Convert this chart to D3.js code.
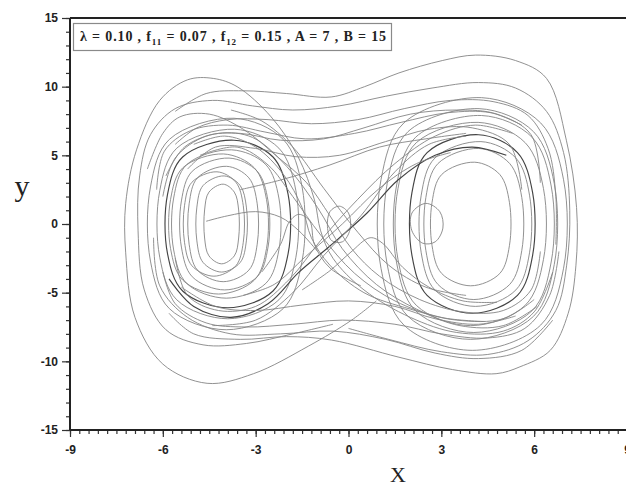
<!DOCTYPE html>
<html>
<head>
<meta charset="utf-8">
<script src="https://cdn.jsdelivr.net/npm/d3@7"></script>
<style>
  body { margin: 0; background: #fff; }
  svg { display: block; }
</style>
</head>
<body>
<div id="chart"></div>
<script>
// tick labels
const xTicks = [-9, -6, -3, 0, 3, 6, 9];
const yTicks = [-15, -10, -5, 0, 5, 10, 15];

// legend parts: [text, isSubscript]
const legendParts = [
  ["λ = 0.10 , f", false], ["11", true], [" = 0.07 , f", false], ["12", true],
  [" = 0.15 , A = 7 , B = 15", false]
];

// closed orbits around the left well
const leftLoops = [
  [[-4.05,2.9],[-3.69,2.32],[-3.55,1.02],[-3.55,-1.02],[-3.69,-2.32],[-4.1,-2.9],[-4.51,-2.32],[-4.65,-1.02],[-4.65,1.02],[-4.51,2.32]],
  [[-4.02,3.5],[-3.5,2.8],[-3.3,1.23],[-3.3,-1.23],[-3.5,-2.8],[-4.1,-3.5],[-4.7,-2.8],[-4.9,-1.23],[-4.9,1.23],[-4.7,2.8]],
  [[-4.25,3.8],[-3.64,3.04],[-3.4,1.33],[-3.4,-1.33],[-3.64,-3.04],[-4.35,-3.8],[-5.06,-3.04],[-5.3,-1.33],[-5.3,1.33],[-5.06,3.04]],
  [[-3.94,4.2],[-3.22,3.36],[-2.95,1.47],[-2.95,-1.47],[-3.22,-3.36],[-4.05,-4.2],[-4.88,-3.36],[-5.15,-1.47],[-5.15,1.47],[-4.88,3.36]],
  [[-3.86,4.8],[-2.95,3.84],[-2.6,1.68],[-2.6,-1.68],[-2.95,-3.84],[-4.0,-4.8],[-5.05,-3.84],[-5.4,-1.68],[-5.4,1.68],[-5.05,3.84]],
  [[-4.04,5.1],[-3.04,4.08],[-2.65,1.79],[-2.65,-1.79],[-3.04,-4.08],[-4.2,-5.1],[-5.36,-4.08],[-5.75,-1.79],[-5.75,1.79],[-5.36,4.08]],
  [[-3.78,5.4],[-2.67,4.32],[-2.25,1.89],[-2.25,-1.89],[-2.67,-4.32],[-3.95,-5.4],[-5.23,-4.32],[-5.65,-1.89],[-5.65,1.89],[-5.23,4.32]],
  [[-3.7,6.1],[-2.44,4.88],[-1.95,2.14],[-1.95,-2.14],[-2.44,-4.88],[-3.9,-6.1],[-5.36,-4.88],[-5.85,-2.14],[-5.85,2.14],[-5.36,4.88]],
  [[-3.68,6.9],[-2.25,5.52],[-1.7,2.42],[-1.7,-2.42],[-2.25,-5.52],[-3.9,-6.9],[-5.55,-5.52],[-6.1,-2.42],[-6.1,2.42],[-5.55,5.52]],
  [[-3.7,7.7],[-2.11,6.16],[-1.5,2.7],[-1.5,-2.7],[-2.11,-6.16],[-3.95,-7.7],[-5.79,-6.16],[-6.4,-2.7],[-6.4,2.7],[-5.79,6.16]]
];

// closed orbits around the right well
const rightLoops = [
  [[4.08,4.5],[4.89,3.6],[5.2,1.58],[5.2,-1.58],[4.89,-3.6],[3.95,-4.5],[3.01,-3.6],[2.7,-1.58],[2.7,1.58],[3.01,3.6]],
  [[4.21,5.5],[5.21,4.4],[5.6,1.93],[5.6,-1.93],[5.21,-4.4],[4.05,-5.5],[2.89,-4.4],[2.5,-1.93],[2.5,1.93],[2.89,4.4]],
  [[4.28,6.0],[5.41,4.8],[5.85,2.1],[5.85,-2.1],[5.41,-4.8],[4.1,-6.0],[2.79,-4.8],[2.35,-2.1],[2.35,2.1],[2.79,4.8]],
  [[4.2,6.5],[5.46,5.2],[5.95,2.28],[5.95,-2.28],[5.46,-5.2],[4.0,-6.5],[2.54,-5.2],[2.05,-2.28],[2.05,2.28],[2.54,5.2]],
  [[4.19,7.4],[5.71,5.92],[6.3,2.59],[6.3,-2.59],[5.71,-5.92],[3.95,-7.4],[2.19,-5.92],[1.6,-2.59],[1.6,2.59],[2.19,5.92]],
  [[4.3,7.9],[5.93,6.32],[6.55,2.77],[6.55,-2.77],[5.93,-6.32],[4.05,-7.9],[2.17,-6.32],[1.55,-2.77],[1.55,2.77],[2.17,6.32]],
  [[4.22,8.4],[5.98,6.72],[6.65,2.94],[6.65,-2.94],[5.98,-6.72],[3.95,-8.4],[1.92,-6.72],[1.25,-2.94],[1.25,2.94],[1.92,6.72]],
  [[4.3,9.2],[6.21,7.36],[6.95,3.22],[6.95,-3.22],[6.21,-7.36],[4.0,-9.2],[1.79,-7.36],[1.05,-3.22],[1.05,3.22],[1.79,7.36]]
];

// small turning loops near the saddle
const smallLoops = [
  [[-0.3,1.3],[0.0,0.8],[0.05,-0.4],[-0.2,-1.3],[-0.55,-1.2],[-0.68,-0.2],[-0.6,0.9]],
  [[2.5,1.5],[2.95,0.9],[3.05,-0.3],[2.8,-1.3],[2.4,-1.4],[2.05,-0.5],[2.05,0.8]]
];

// open stretches of the trajectory that jump between the wells
const crossings = [
  [[0.9,-5.6],[0.1,-7.0],[-1.3,-8.9],[-3.07,-10.9],[-4.57,-11.6],[-6.0,-10.2],[-6.9,-6.8],[-7.2,-2.1],[-7.2,1.5],[-6.85,5.4],[-6.1,9.0],[-5.2,10.5],[-4.37,10.6],[-3.6,10.0],[-2.5,7.8],[-1.63,4.9],[-1.1,1.75],[-0.9,-0.5],[-0.5,-2.5],[0.5,-4.8],[2.0,-6.8],[3.5,-7.9],[5.0,-7.8],[6.0,-6.4],[6.6,-3.5]],
  [[-5.8,-6.5],[-5.0,-8.0],[-3.5,-8.4],[-2.0,-8.2],[-0.55,-8.45],[1.63,-9.7],[3.36,-10.6],[4.77,-10.9],[5.54,-10.4],[6.52,-9.2],[7.1,-6.5],[7.35,-3.0],[7.37,1.2],[7.04,6.1],[6.4,10.6],[5.4,11.9],[4.11,12.3],[3.03,11.9],[1.63,11.0],[0.52,10.0],[-0.56,9.25],[-2.0,9.5],[-3.4,9.7],[-4.6,9.5],[-5.6,8.2]],
  [[-0.5,-7.3],[-1.8,-8.0],[-3.3,-8.7],[-4.7,-8.8],[-5.9,-7.7],[-6.6,-4.8],[-6.8,-0.5],[-6.75,3.5],[-6.4,6.5],[-5.6,8.4],[-4.4,9.0],[-3.1,8.6],[-1.8,8.3],[-0.3,8.6],[1.2,9.3],[2.7,9.9],[4.2,10.3],[5.4,9.9],[6.4,8.2],[6.95,5.2],[7.15,1.0],[7.05,-3.0],[6.7,-6.3],[5.8,-8.5],[4.5,-9.5],[3.0,-9.3],[1.3,-8.4],[0.0,-7.6]],
  [[-5.6,5.8],[-4.9,7.0],[-3.9,7.6],[-2.6,7.6],[-1.2,7.3],[0.3,7.6],[1.8,8.4],[3.3,9.0],[4.7,8.9],[5.8,7.9],[6.45,5.5],[6.7,2.0],[6.7,-1.5]],
  [[-6.2,2.5],[-5.95,5.3],[-5.1,6.8],[-3.9,7.2],[-2.7,6.7],[-1.4,6.2],[0.2,6.6],[1.7,7.4],[3.2,8.1],[4.6,8.1],[5.6,7.2]],
  [[-6.5,4.0],[-6.0,6.6],[-5.45,7.8],[-4.5,8.0],[-3.4,6.9],[-2.3,4.9],[-1.35,3.0],[-0.6,0.6],[0.1,-1.8],[1.0,-3.8],[2.3,-5.5],[3.7,-6.4],[5.0,-6.3],[5.9,-4.8],[6.2,-2.0]],
  [[-5.0,5.8],[-4.0,6.4],[-3.0,5.6],[-2.1,3.6],[-1.5,1.2],[-1.2,-1.0],[-0.6,-3.0],[0.5,-5.0],[2.0,-6.2],[3.5,-7.0],[5.0,-6.9],[6.0,-5.5]],
  [[-5.8,-4.0],[-5.0,-6.0],[-3.8,-6.8],[-2.6,-5.8],[-1.6,-3.5],[-0.6,-1.6],[0.6,0.8],[1.6,3.2],[2.8,5.0],[4.0,5.6],[5.1,5.0]],
  [[-3.5,2.5],[-2.2,3.2],[-0.6,4.3],[1.0,5.6],[2.5,6.2],[3.8,6.6]],
  [[-4.6,0.2],[-3.9,0.6],[-3.0,0.9],[-2.2,0.5],[-1.6,-0.5],[-1.0,-2.0]],
  [[-6.0,-3.5],[-5.6,-5.8],[-4.6,-7.2],[-3.3,-7.5],[-1.8,-7.3],[-0.2,-7.0],[1.5,-7.3],[3.0,-8.0],[4.5,-8.3],[5.7,-7.6],[6.5,-5.2],[6.8,-2.0]],
  [[-5.4,-4.6],[-4.3,-6.0],[-3.0,-6.3],[-1.5,-5.9],[0.0,-5.6],[1.5,-6.0],[2.8,-6.9],[4.2,-7.3],[5.4,-6.7]],
  [[-6.3,-1.0],[-6.1,-4.5],[-5.2,-6.8],[-3.8,-8.0],[-2.2,-8.0],[-0.5,-7.8],[1.2,-8.4],[2.8,-9.4],[4.2,-9.8],[5.6,-9.2],[6.6,-7.0]],
  [[6.2,3.0],[5.9,6.5],[4.8,8.0],[3.5,8.3],[2.0,8.0],[0.5,7.0],[-0.8,6.2],[-2.2,6.1],[-3.5,6.6],[-4.6,6.4],[-5.6,4.8],[-6.0,2.0]],
  [[5.6,2.5],[5.2,5.8],[4.0,7.0],[2.6,6.9],[1.2,6.0],[-0.3,5.0],[-1.7,4.9],[-3.0,5.5],[-4.3,5.6],[-5.2,4.0]],
  [[-1.5,-4.8],[-0.6,-3.4],[0.05,-2.1],[0.7,-1.0],[1.1,-1.4],[1.75,-3.15],[2.6,-4.6],[3.7,-5.6],[4.8,-5.7]],
  [[-2.8,-3.5],[-2.2,-1.5],[-1.9,0.2],[-1.6,0.7],[-1.25,0.2],[-1.1,-1.5],[-0.6,-3.2],[0.4,-4.5]],
  [[-5.9,3.5],[-5.3,5.6],[-4.2,6.6],[-3.1,6.3],[-2.0,4.2],[-1.0,1.2],[-0.2,-1.8],[0.9,-4.4],[2.2,-6.2],[3.6,-7.4],[5.0,-7.4],[6.1,-6.0]],
  [[-4.8,5.0],[-3.6,5.6],[-2.6,4.3],[-1.8,2.0],[-0.9,-0.8],[0.2,-3.6],[1.5,-5.6],[3.0,-6.8],[4.4,-7.1]],
  [[-3.8,8.3],[-2.8,7.5],[-1.8,5.6],[-0.8,2.6],[0.3,-0.6],[1.3,-3.0],[2.5,-4.6],[3.8,-5.2]],
  [[-5.6,-2.5],[-5.2,-5.2],[-4.2,-6.3],[-3.0,-6.0],[-1.9,-4.0],[-0.9,-1.2],[0.3,1.8],[1.5,4.4],[2.8,6.4],[4.1,7.2],[5.3,6.6]],
  [[-4.4,-7.4],[-3.0,-7.0],[-1.8,-5.0],[-0.8,-2.3],[0.4,0.6],[1.5,3.8],[2.6,5.8],[3.8,6.4]],
  [[-3.4,-5.2],[-2.4,-4.4],[-1.4,-2.4],[-0.2,0.0],[1.0,2.6],[2.2,4.4],[3.3,5.2]]
];

// orbits that print darker in the scan
const darkLeft = [7];
const darkRight = [3];
const darkCross = [7];

const width = 626, height = 487;
const svg = d3.select("#chart").append("svg")
  .attr("width", width).attr("height", height)
  .style("font-family", "'Liberation Sans', Arial, sans-serif");

const x = d3.scaleLinear().domain([-9, 9]).range([70, 627]);
const y = d3.scaleLinear().domain([-15, 15]).range([430, 18]);

const closed = d3.line().x(d => x(d[0])).y(d => y(d[1])).curve(d3.curveCatmullRomClosed.alpha(0.5));
const open = d3.line().x(d => x(d[0])).y(d => y(d[1])).curve(d3.curveCatmullRom.alpha(0.5));

const plot = svg.append("g").attr("fill", "none").attr("stroke-linejoin", "round");

function drawSet(data, gen, dark) {
  plot.append("g").selectAll("path")
    .data(data)
    .join("path")
    .attr("d", gen)
    .attr("stroke", (d, i) => dark.includes(i) ? "#444" : "#858585")
    .attr("stroke-width", (d, i) => dark.includes(i) ? 1.15 : 0.9);
}
drawSet(leftLoops, closed, darkLeft);
drawSet(rightLoops, closed, darkRight);
drawSet(smallLoops, closed, []);
drawSet(crossings, open, darkCross);

// axes
const minorX = d3.range(-9, 9.001, 0.3).map(v => +v.toFixed(2));
const minorY = d3.range(-15, 15.001, 1);
const fmt = d => String(d);

const xg = svg.append("g").attr("transform", `translate(0,${y(-15)})`);
xg.append("g").call(d3.axisBottom(x).tickValues(minorX).tickSize(4).tickFormat(""));
xg.append("g").call(d3.axisBottom(x).tickValues(xTicks).tickSize(7).tickPadding(8).tickFormat(fmt));

const yg = svg.append("g").attr("transform", `translate(${x(-9)},0)`);
yg.append("g").call(d3.axisLeft(y).tickValues(minorY).tickSize(4).tickFormat(""));
yg.append("g").call(d3.axisLeft(y).tickValues(yTicks).tickSize(8).tickPadding(4).tickFormat(fmt));

svg.selectAll(".domain").remove();
svg.selectAll(".tick line").attr("stroke", "#333").attr("stroke-width", 1.2);
svg.selectAll(".tick text")
  .attr("fill", "#222")
  .style("font-size", "12px")
  .style("font-weight", "bold")
  .style("font-family", "'Liberation Sans', Arial, sans-serif");

// frame lines: left, top, bottom
const frame = svg.append("g").attr("stroke", "#222").attr("stroke-width", 2);
frame.append("line").attr("x1", x(-9)).attr("x2", x(-9)).attr("y1", y(15)).attr("y2", y(-15));
frame.append("line").attr("x1", x(-9)).attr("x2", width).attr("y1", y(15)).attr("y2", y(15));
frame.append("line").attr("x1", x(-9)).attr("x2", width).attr("y1", y(-15)).attr("y2", y(-15));

// legend box
svg.append("rect")
  .attr("x", 73.5).attr("y", 23.5).attr("width", 318).attr("height", 27)
  .attr("fill", "#fff").attr("stroke", "#8a8a8a").attr("stroke-width", 1.2);

const lt = svg.append("text")
  .attr("x", 80).attr("y", 41)
  .attr("textLength", 306).attr("lengthAdjust", "spacing")
  .style("font-family", "'Liberation Serif', 'Times New Roman', serif")
  .style("font-weight", "bold")
  .style("font-size", "14px")
  .attr("fill", "#222");
let shifted = false;
legendParts.forEach(([t, sub]) => {
  const s = lt.append("tspan").text(t);
  if (sub && !shifted) { s.attr("dy", 4).style("font-size", "9px"); shifted = true; }
  else if (!sub && shifted) { s.attr("dy", -4); shifted = false; }
});

// axis titles
svg.append("text")
  .attr("x", 22).attr("y", 196)
  .attr("text-anchor", "middle")
  .style("font-family", "'Liberation Serif', 'Times New Roman', serif")
  .style("font-size", "30px")
  .attr("fill", "#222")
  .text("y");

svg.append("text")
  .attr("x", 398).attr("y", 482)
  .attr("text-anchor", "middle")
  .style("font-family", "'Liberation Serif', 'Times New Roman', serif")
  .style("font-size", "22px")
  .attr("fill", "#222")
  .text("X");
</script>
</body>
</html>
